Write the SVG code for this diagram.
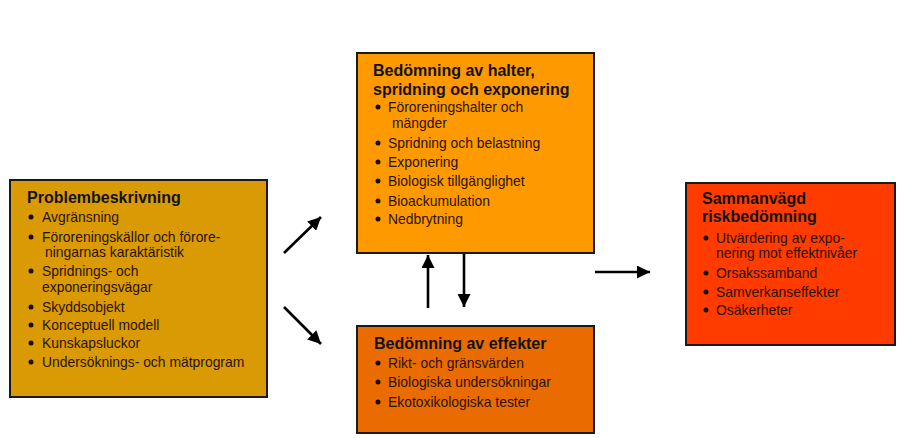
<svg xmlns="http://www.w3.org/2000/svg" width="904" height="438" viewBox="0 0 904 438">
<style>
.box{stroke:#1a1a1a;stroke-width:2}
.t{font-family:"Liberation Sans",Arial,sans-serif;font-weight:bold;font-size:16px;fill:#111}
.i{font-family:"Liberation Sans",Arial,sans-serif;font-size:13.9px;fill:#2a1200}
.b{fill:#1a0a00}
.c{stroke:#000;stroke-width:2.6;fill:none}
</style>
<defs>
<marker id="ah" markerUnits="userSpaceOnUse" markerWidth="15" markerHeight="13" refX="13" refY="6.5" orient="auto">
<path d="M0,0 L13,6.5 L0,13 Z" fill="#000"/>
</marker>
</defs>
<rect width="904" height="438" fill="#fff"/>

<g id="problembeskrivning">
<rect class="box" x="10" y="180" width="257" height="217" fill="#DA9A04"/>
<text class="t" x="27" y="203">Problembeskrivning</text>
<circle class="b" cx="31" cy="217" r="2.5"/>
<text class="i" x="42" y="222">Avgränsning</text>
<circle class="b" cx="31" cy="237" r="2.5"/>
<text class="i" x="42" y="242">Föroreningskällor och förore-</text>
<text class="i" x="45" y="257">ningarnas karaktäristik</text>
<circle class="b" cx="31" cy="271" r="2.5"/>
<text class="i" x="42" y="276">Spridnings- och</text>
<text class="i" x="42" y="292">exponeringsvägar</text>
<circle class="b" cx="31" cy="307" r="2.5"/>
<text class="i" x="42" y="312">Skyddsobjekt</text>
<circle class="b" cx="31" cy="325" r="2.5"/>
<text class="i" x="42" y="330">Konceptuell modell</text>
<circle class="b" cx="31" cy="343" r="2.5"/>
<text class="i" x="42" y="348">Kunskapsluckor</text>
<circle class="b" cx="31" cy="362" r="2.5"/>
<text class="i" x="42" y="367">Undersöknings- och mätprogram</text>
</g>

<g id="halter">
<rect class="box" x="357" y="53" width="237" height="200" fill="#FF9900"/>
<text class="t" x="373" y="76">Bedömning av halter,</text>
<text class="t" x="373" y="95">spridning och exponering</text>
<circle class="b" cx="378" cy="107" r="2.5"/>
<text class="i" x="388" y="112">Föroreningshalter och</text>
<text class="i" x="392" y="128">mängder</text>
<circle class="b" cx="378" cy="143" r="2.5"/>
<text class="i" x="388" y="148">Spridning och belastning</text>
<circle class="b" cx="378" cy="162" r="2.5"/>
<text class="i" x="388" y="167">Exponering</text>
<circle class="b" cx="378" cy="181" r="2.5"/>
<text class="i" x="388" y="186">Biologisk tillgänglighet</text>
<circle class="b" cx="378" cy="201" r="2.5"/>
<text class="i" x="388" y="206">Bioackumulation</text>
<circle class="b" cx="378" cy="219" r="2.5"/>
<text class="i" x="388" y="224">Nedbrytning</text>
</g>

<g id="effekter">
<rect class="box" x="357" y="326" width="237" height="107" fill="#EA6C00"/>
<text class="t" x="374" y="349">Bedömning av effekter</text>
<circle class="b" cx="378" cy="363" r="2.5"/>
<text class="i" x="388" y="368">Rikt- och gränsvärden</text>
<circle class="b" cx="378" cy="382" r="2.5"/>
<text class="i" x="388" y="387">Biologiska undersökningar</text>
<circle class="b" cx="378" cy="402" r="2.5"/>
<text class="i" x="388" y="407">Ekotoxikologiska tester</text>
</g>

<g id="sammanvagd">
<rect class="box" x="686" y="183" width="209" height="162" fill="#FF3B00"/>
<text class="t" x="702" y="204">Sammanvägd</text>
<text class="t" x="702" y="222">riskbedömning</text>
<circle class="b" cx="706" cy="238" r="2.5"/>
<text class="i" x="716" y="243">Utvärdering av expo-</text>
<text class="i" x="716" y="258">nering mot effektnivåer</text>
<circle class="b" cx="706" cy="273" r="2.5"/>
<text class="i" x="716" y="278">Orsakssamband</text>
<circle class="b" cx="706" cy="292" r="2.5"/>
<text class="i" x="716" y="297">Samverkanseffekter</text>
<circle class="b" cx="706" cy="310" r="2.5"/>
<text class="i" x="716" y="315">Osäkerheter</text>
</g>

<g id="connectors">
<line class="c" x1="284" y1="253" x2="321" y2="217" marker-end="url(#ah)"/>
<line class="c" x1="284" y1="307" x2="321" y2="344" marker-end="url(#ah)"/>
<line class="c" x1="428" y1="308" x2="428" y2="255" marker-end="url(#ah)"/>
<line class="c" x1="464" y1="254" x2="464" y2="307" marker-end="url(#ah)"/>
<line class="c" x1="595" y1="272" x2="650" y2="272" marker-end="url(#ah)"/>
</g>
</svg>
